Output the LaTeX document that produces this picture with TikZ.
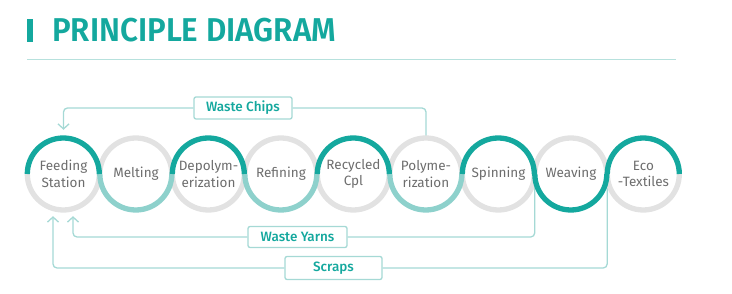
\documentclass[tikz,border=0pt]{standalone}
\usepackage{fontspec}
\setmainfont{Fira Sans}
\newfontfamily\tagfont{Fira Sans}[UprightFont={* Medium}]
\newfontfamily\headfont{Fira Sans}[UprightFont={* SemiBold}]
\usepackage{xcolor}
\usetikzlibrary{arrows.meta,positioning}

\definecolor{tealdark}{HTML}{14A89E}
\definecolor{teallight}{HTML}{8ED1CC}
\definecolor{ringgrey}{HTML}{E2E2E2}
\definecolor{wire}{HTML}{A5D9D5}
\definecolor{labelgrey}{HTML}{6D6D6D}

\begin{document}
\begin{tikzpicture}[
  x=1pt, y=1pt,
  stage/.style={circle, minimum size=72pt, inner sep=0pt, align=center, text=labelgrey, font=\fontsize{13.5}{16.5}\selectfont},
  ringdark/.style={line width=5.3pt, tealdark},
  ringlight/.style={line width=5.3pt, teallight},
  ringpale/.style={line width=5.3pt, ringgrey},
  tag/.style={draw=wire, line width=1.3pt, rounded corners=2pt, fill=white, text=tealdark, inner sep=0pt, font=\tagfont\fontsize{13.5}{14}\selectfont},
  loop/.style={wire, line width=1.3pt, rounded corners=4pt},
  back/.style={loop, -{Straight Barb[length=5pt, width=11pt]}}
]
  \useasboundingbox (0,0) rectangle (732,294);

  % heading
  \fill[tealdark] (27,252) rectangle (33,275);
  \node[anchor=base west, inner sep=0pt, text=tealdark, font=\headfont\fontsize{33}{33}\selectfont] (title) at (52,252) {\scalebox{0.95}[1]{PRINCIPLE DIAGRAM}};
  \draw[wire!80, line width=1pt] (27,234) -- (676,234);

  % process stages
  \node[stage] (feed) at (63.5,120) {Feeding\\Station};
  \node[stage, right=0.1pt of feed] (melt) {Melting};
  \node[stage, right=0.1pt of melt] (depol) {Depolym-\\erization};
  \node[stage, right=0.1pt of depol] (refine) {Refining};
  \node[stage, right=0.1pt of refine] (recyc) {Recycled\\Cpl};
  \node[stage, right=0.1pt of recyc] (poly) {Polyme-\\rization};
  \node[stage, right=0.1pt of poly] (spin) {Spinning};
  \node[stage, right=0.1pt of spin] (weave) {Weaving};
  \node[stage, right=0.1pt of weave] (eco) {Eco\\-Textiles};

  % return labels
  \node[tag, minimum width=98pt, minimum height=22pt] (chips) at (243,186) {Waste Chips};
  \node[tag, minimum width=99pt, minimum height=21pt] (yarns) at (297.5,57) {Waste Yarns};
  \node[tag, minimum width=97pt, minimum height=23pt] (scraps) at (333.5,26) {Scraps};

  % return loops
  \draw[loop] (poly.north) |- (chips.east);
  \draw[back, shorten >=8pt] (chips.west) -| (feed.north);
  \draw[loop] (spin.east) |- (yarns.east);
  \draw[back, shorten >=6pt] (yarns.west) -| ([xshift=9.5pt]feed.south);
  \draw[loop] (weave.east) |- (scraps.east);
  \draw[back, shorten >=6pt] (scraps.west) -| ([xshift=-10.5pt]feed.south);

  % rings
  \draw[ringpale] (feed.west) arc[start angle=180, end angle=360, radius=36];
  \draw[ringpale] (melt.west) arc[start angle=180, end angle=0, radius=36];
  \draw[ringpale] (depol.west) arc[start angle=180, end angle=360, radius=36];
  \draw[ringpale] (refine.west) arc[start angle=180, end angle=0, radius=36];
  \draw[ringpale] (recyc.west) arc[start angle=180, end angle=360, radius=36];
  \draw[ringpale] (poly.west) arc[start angle=180, end angle=0, radius=36];
  \draw[ringpale] (spin.west) arc[start angle=180, end angle=360, radius=36];
  \draw[ringpale] (weave.west) arc[start angle=180, end angle=0, radius=36];
  \draw[ringpale] (eco.west) arc[start angle=180, end angle=360, radius=36];
  \draw[ringlight] (melt.west) arc[start angle=180, end angle=360, radius=36];
  \draw[ringlight] (refine.west) arc[start angle=180, end angle=360, radius=36];
  \draw[ringlight] (poly.west) arc[start angle=180, end angle=360, radius=36];
  \draw[ringdark] (feed.west) arc[start angle=180, end angle=0, radius=36];
  \draw[ringdark] (depol.west) arc[start angle=180, end angle=0, radius=36];
  \draw[ringdark] (recyc.west) arc[start angle=180, end angle=0, radius=36];
  \draw[ringdark] (spin.west) arc[start angle=180, end angle=0, radius=36];
  \draw[ringdark] (weave.west) arc[start angle=180, end angle=360, radius=36];
  \draw[ringdark] (eco.west) arc[start angle=180, end angle=0, radius=36];
\end{tikzpicture}
\end{document}
